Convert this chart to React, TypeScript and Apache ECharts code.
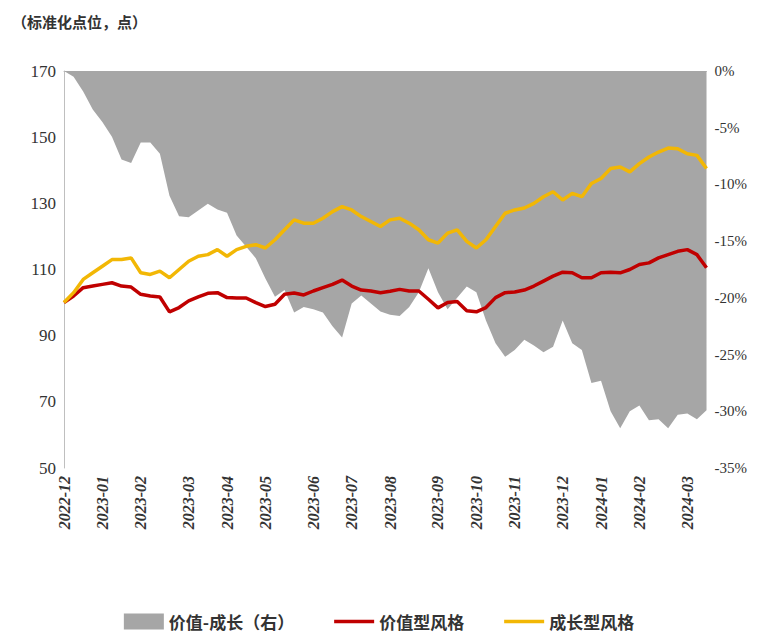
import React, { useEffect, useRef } from "react";
import * as echarts from "echarts";

const startDate = "2022-12-30";
const weeks = 68;
const valueStyle = [100,102,104.5,105,105.5,106,105,104.7,102.5,102,101.7,97.2,98.5,100.5,101.7,102.8,103,101.5,101.4,101.4,100,98.8,99.5,102.5,102.9,102.3,103.5,104.5,105.5,106.8,105,103.8,103.5,103,103.4,104,103.5,103.5,101,98.4,100,100.3,97.5,97.2,98.5,101.5,103,103.2,103.8,105,106.5,108,109.2,109,107.5,107.5,109,109.2,109,110,111.5,112,113.5,114.5,115.5,116,114.5,110.5];
const growthStyle = [100,103,107,109,111,113,113,113.5,109,108.5,109.5,107.5,110,112.5,114,114.5,116,114,116,117,117.5,116.5,119,122,125,124,124,125.5,127.5,129,128,126,124.5,123,125,125.5,124,122,119,118,121,122,118.5,116.5,119,123,127,128,128.6,130,132,133.5,131,133,132,136,137.5,140.5,141,139.5,142,144,145.5,146.7,146.5,145,144.5,140.5];
const spread = [0,-0.5,-1.8,-3.4,-4.5,-5.8,-7.8,-8.1,-6.3,-6.3,-7.3,-11,-12.8,-12.9,-12.3,-11.7,-12.2,-12.5,-14.5,-15.5,-16.5,-18.3,-19.9,-19.3,-21.3,-20.8,-21,-21.3,-22.5,-23.5,-20.5,-19.8,-20.5,-21.2,-21.5,-21.6,-20.8,-19.5,-17.4,-19.5,-21,-20,-19,-19.5,-22,-24,-25.2,-24.6,-23.7,-24.2,-24.8,-24.3,-22,-24,-24.6,-27.5,-27.3,-30,-31.5,-30,-29.5,-30.8,-30.7,-31.5,-30.3,-30.2,-30.7,-29.9];
const leftTicks = { min: 50, max: 170, interval: 20 };
const rightTicks = { min: -35, max: 0, interval: 5 };

const dates: string[] = [];
{
  const d0 = new Date(startDate + "T00:00:00Z");
  for (let i = 0; i < weeks; i++) {
    const d = new Date(d0.getTime() + i * 7 * 86400000);
    dates.push(d.toISOString().slice(0, 10));
  }
}
const monthLabel = (i: number) => {
  if (i >= dates.length - 1) return "";
  return dates[i].slice(0, 7) !== dates[i + 1].slice(0, 7) ? dates[i].slice(0, 7) : "";
};
const lineIcon = "path://M0 0 H40 V3.5 H0 Z";

export default function App() {
  const ref = useRef<HTMLDivElement>(null);
  useEffect(() => {
    const chart = echarts.init(ref.current!, null, { renderer: "svg" });
    const font = "'Liberation Serif', 'Noto Sans CJK SC', serif";
    chart.setOption({
      animation: false,
      textStyle: { fontFamily: font },
      graphic: [{ type: "text", left: 4, top: 6, style: { text: "（标准化点位，点）", font: "bold 15px 'Noto Sans CJK SC'", fill: "#333" } }],
      grid: { left: 56, right: 43, top: 63, bottom: 167 },
      legend: {
        bottom: 0, left: "center", itemGap: 40, itemWidth: 40, itemHeight: 16,
        textStyle: { fontSize: 17, fontWeight: "bold", color: "#333", fontFamily: "'Noto Sans CJK SC'" },
        data: [{ name: "价值-成长（右）", icon: "rect" }, { name: "价值型风格", icon: lineIcon }, { name: "成长型风格", icon: lineIcon }],
      },
      xAxis: {
        type: "category", data: dates, boundaryGap: false,
        axisLine: { lineStyle: { color: "#bfbfbf" } },
        axisTick: { interval: (i: number) => monthLabel(i) !== "", lineStyle: { color: "#bfbfbf" } },
        axisLabel: {
          interval: (i: number) => monthLabel(i) !== "",
          formatter: (_v: string, i: number) => monthLabel(i),
          rotate: 90, fontSize: 16, fontWeight: "bold", fontStyle: "italic", color: "#333", margin: 8,
        },
      },
      yAxis: [
        { type: "value", ...leftTicks, splitLine: { show: false },
          axisLine: { show: true, lineStyle: { color: "#bfbfbf" } }, axisTick: { show: false },
          axisLabel: { fontSize: 17, color: "#333" } },
        { type: "value", ...rightTicks, splitLine: { show: false },
          axisLine: { show: false }, axisTick: { show: false },
          axisLabel: { fontSize: 15, color: "#333", formatter: (v: number) => v + "%" } },
      ],
      series: [
        { name: "价值-成长（右）", type: "line", yAxisIndex: 1, data: spread, symbol: "none",
          lineStyle: { width: 0 }, itemStyle: { color: "#a6a6a6" }, areaStyle: { color: "#a6a6a6", opacity: 1 } },
        { name: "价值型风格", type: "line", data: valueStyle, symbol: "none",
          lineStyle: { width: 3.5, color: "#c00000" }, itemStyle: { color: "#c00000" } },
        { name: "成长型风格", type: "line", data: growthStyle, symbol: "none",
          lineStyle: { width: 3.5, color: "#f2b705" }, itemStyle: { color: "#f2b705" } },
      ],
    });
    return () => chart.dispose();
  }, []);
  return <div ref={ref} style={{ width: 742, height: 627 }} />;
}
